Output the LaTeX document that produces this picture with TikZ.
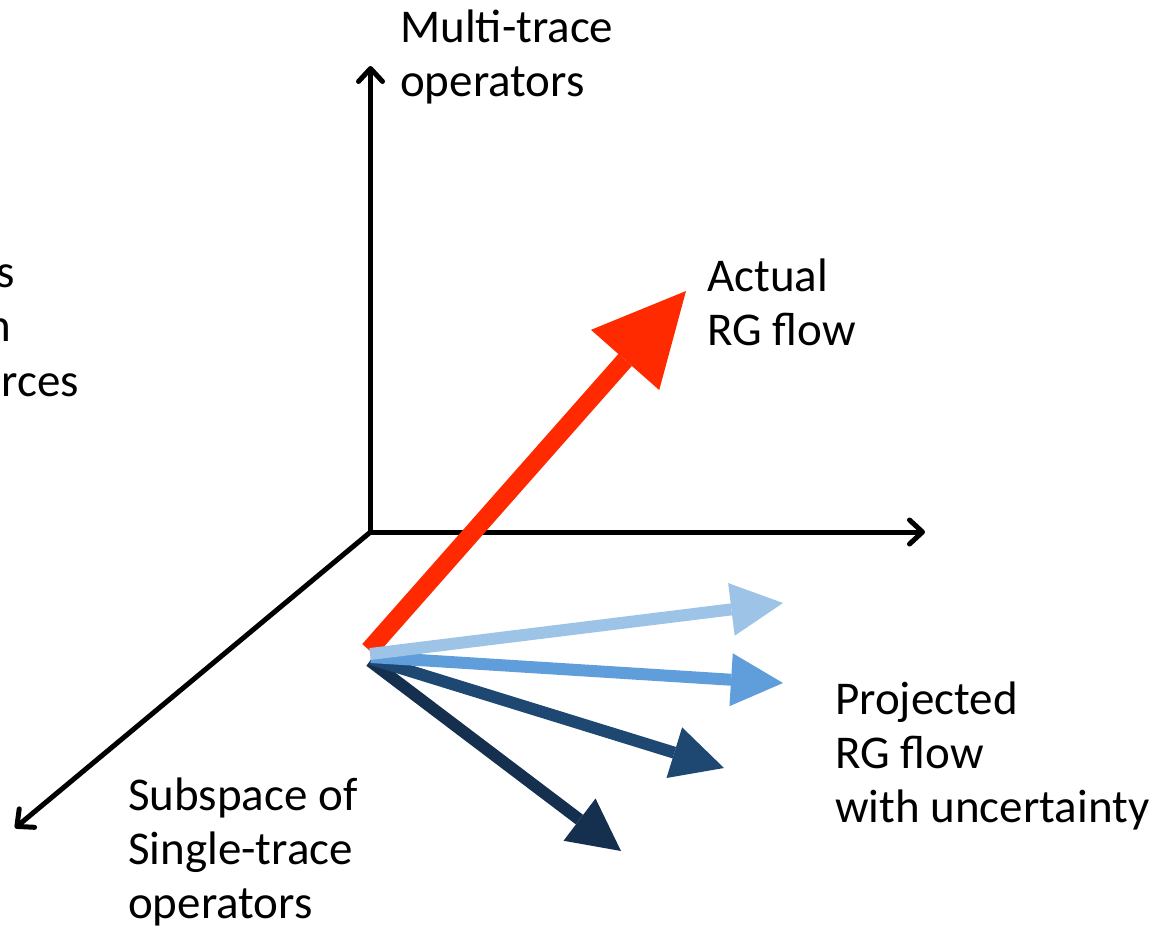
\documentclass[tikz,border=0pt]{standalone}
\usepackage{fontspec}
\setmainfont{Carlito}
\usetikzlibrary{arrows.meta}
\definecolor{rgred}{HTML}{FF2A00}
\definecolor{blueA}{HTML}{9DC3E6}
\definecolor{blueB}{HTML}{5F9EDB}
\definecolor{blueC}{HTML}{1E4872}
\definecolor{blueD}{HTML}{152F4F}
\begin{document}
\begin{tikzpicture}[x=1pt,y=-1pt,
  axis/.style={line width=5pt, line cap=round, -{Straight Barb[length=13pt,width=24pt,round]}},
  bigflow/.style={line width=18pt, -{Triangle[length=92pt,width=91pt,line width=0pt]}},
  flow/.style={line width=12pt, -{Triangle[length=52pt,width=53pt,line width=0pt]}},
  lbl/.style={anchor=base west, inner sep=0pt, align=left, font=\fontsize{47}{54}\selectfont}]
\useasboundingbox (0,0) rectangle (1161,929);
\clip (0,0) rectangle (1161,929);
% axes
\coordinate (O) at (370.5,532);
\coordinate (yend) at (370.5,66);
\coordinate (xend) at (925,532);
\coordinate (zend) at (15,828);
\draw[axis] (O) -- (yend);
\draw[axis] (O) -- (xend);
\draw[axis] (O) -- (zend);
% flows
\coordinate (rs) at (369,650);
\coordinate (rt) at (686,291);
\coordinate (as) at (370,654);
\coordinate (at) at (783,603);
\coordinate (bs) at (371,657);
\coordinate (bt) at (783,683);
\coordinate (cs) at (371,659);
\coordinate (ct) at (724,768);
\coordinate (ds) at (370,661);
\coordinate (dt) at (621,851);
\draw[bigflow, rgred] (rs) -- (rt);
\draw[flow, blueD] (ds) -- (dt);
\draw[flow, blueC] (cs) -- (ct);
\draw[flow, blueB] (bs) -- (bt);
\draw[flow, blueA] (as) -- (at);
% labels (base anchor = baseline of the last line)
\node[lbl] (ymul) at (400,96) {Multi-trace\\operators};
\node[lbl] (actual) at (707,345) {Actual\\RG flow};
\node[lbl] (proj) at (835,822) {Projected\\RG flow\\with uncertainty};
\node[lbl] (sub) at (128,918) {Subspace of\\Single-trace\\operators};
\node[lbl, anchor=base east] (f1) at (15,287) {s};
\node[lbl, anchor=base east] (f2) at (11,341) {n};
\node[lbl, anchor=base east] (f3) at (79,396) {rces};
\end{tikzpicture}
\end{document}
